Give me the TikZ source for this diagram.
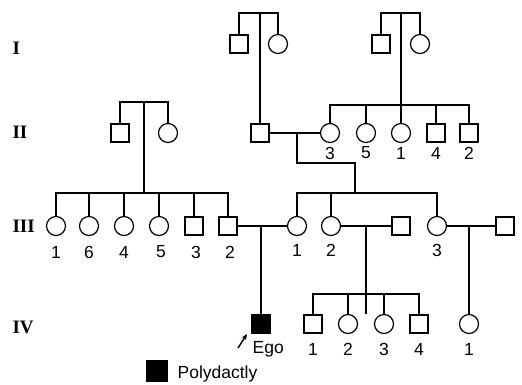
\documentclass[tikz,border=0pt]{standalone}
\usepackage{fontspec}
\setmainfont{Liberation Sans}
\newfontfamily\genfont{Liberation Serif}
\usetikzlibrary{arrows.meta}

\tikzset{
  male/.style={draw,rectangle,minimum size=18pt,inner sep=0pt},
  female/.style={draw,circle,minimum size=19pt,inner sep=0pt},
  affected/.style={male,fill=black},
  num/.style={inner sep=0pt,font=\fontsize{17.5}{20}\selectfont},
  gen/.style={anchor=west,inner sep=0pt,font=\genfont\bfseries\fontsize{19}{22}\selectfont},
}

\begin{document}
\begin{tikzpicture}[x=1pt,y=-1pt,line width=1.2pt]
\useasboundingbox (0,0) rectangle (522,384);

% generation numbers
\node[gen] at (12,48) (gI) {I};
\node[gen] at (12,132) (gII) {II};
\node[gen] at (12,226) (gIII) {III};
\node[gen] at (12,327) (gIV) {IV};

% generation I
\node[male] at (239,44) (Ia) {};
\node[female] at (278,44) (Ib) {};
\node[male] at (381,44) (Ic) {};
\node[female] at (420,44) (Id) {};
\coordinate (cIab) at (260,13);
\coordinate (cIcd) at (401,13);
\draw (Ia) |- (cIab) -| (Ib);
\draw (Ic) |- (cIcd) -| (Id);

% generation II
\node[male] at (120,133) (IIa) {};
\node[female] at (168,133) (IIb) {};
\coordinate (cIIab) at (144,102);
\draw (IIa) |- (cIIab) -| (IIb);

\node[male] at (260,133) (IIm) {};
\node[female] at (330,133) (II3) {};
\node[female] at (366,133) (II5) {};
\node[female] at (401,133) (II1) {};
\node[male] at (436,133) (II4) {};
\node[male] at (469,133) (II2) {};
\draw (cIab) -- (IIm);
\coordinate (sII) at (401,105);
\draw (cIcd) -- (sII);
\foreach \c in {II3,II5,II1,II4,II2}
  \draw (sII) -| (\c);
\node[num] at (330,153) (lII3) {3};
\node[num] at (366,153) (lII5) {5};
\node[num] at (401,153) (lII1) {1};
\node[num] at (436,153) (lII4) {4};
\node[num] at (469,153) (lII2) {2};

\draw (IIm) -- (II3);
\coordinate (mII) at (297,133);
\coordinate (kII) at (297,163);
\coordinate (sIIIr) at (355,193);
\draw (mII) -- (kII) -| (sIIIr);

% generation III
\node[female] at (56,226) (IIIa1) {};
\node[female] at (89,226) (IIIa6) {};
\node[female] at (124,226) (IIIa4) {};
\node[female] at (159,226) (IIIa5) {};
\node[male] at (194,226) (IIIa3) {};
\node[male] at (228,226) (IIIa2) {};
\coordinate (sIIIl) at (144,193);
\draw (cIIab) -- (sIIIl);
\foreach \c in {IIIa1,IIIa6,IIIa4,IIIa5,IIIa3,IIIa2}
  \draw (sIIIl) -| (\c);
\node[num] at (56,252) (lIIIa1) {1};
\node[num] at (89,252) (lIIIa6) {6};
\node[num] at (124,252) (lIIIa4) {4};
\node[num] at (161,252) (lIIIa5) {5};
\node[num] at (196,252) (lIIIa3) {3};
\node[num] at (230,252) (lIIIa2) {2};

\node[female] at (297,226) (IIIb1) {};
\node[female] at (331,226) (IIIb2) {};
\node[female] at (437,226) (IIIb3) {};
\node[male] at (401,226) (IIIh2) {};
\node[male] at (505,226) (IIIh3) {};
\foreach \c in {IIIb1,IIIb2,IIIb3}
  \draw (sIIIr) -| (\c);
\node[num] at (297,250) (lIIIb1) {1};
\node[num] at (331,250) (lIIIb2) {2};
\node[num] at (437,250) (lIIIb3) {3};

\draw (IIIa2) -- (IIIb1);
\draw (IIIb2) -- (IIIh2);
\draw (IIIb3) -- (IIIh3);

% generation IV
\node[affected] at (261,324) (ego) {};
\coordinate (mIIIa) at (261,226);
\draw (mIIIa) -- (ego);
\node[anchor=base west,num] at (252,353) (egolbl) {Ego};
\coordinate (a0) at (238,348);
\coordinate (a1) at (247,334);
\draw[-{Stealth[length=6pt,width=5pt]},line width=1.4pt] (a0) -- (a1);

\node[male] at (313,324) (IV1) {};
\node[female] at (348,324) (IV2) {};
\node[female] at (384,324) (IV3) {};
\node[male] at (419,324) (IV4) {};
\coordinate (mIIIb) at (366,226);
\coordinate (sIV) at (366,294);
\coordinate (tIV) at (366,314);
\draw (mIIIb) -- (tIV);
\foreach \c in {IV1,IV2,IV3,IV4}
  \draw (sIV) -| (\c);
\node[num] at (313,349) (lIV1) {1};
\node[num] at (348,349) (lIV2) {2};
\node[num] at (384,349) (lIV3) {3};
\node[num] at (419,349) (lIV4) {4};

\node[female] at (469,324) (IV5) {};
\coordinate (mIIIc) at (469,226);
\draw (mIIIc) -- (IV5);
\node[num] at (469,349) (lIV5) {1};

% key
\node[affected,minimum size=20pt] at (157,371) (key) {};
\node[anchor=base west,num] at (177,378) (keylbl) {Polydactly};
\end{tikzpicture}
\end{document}
